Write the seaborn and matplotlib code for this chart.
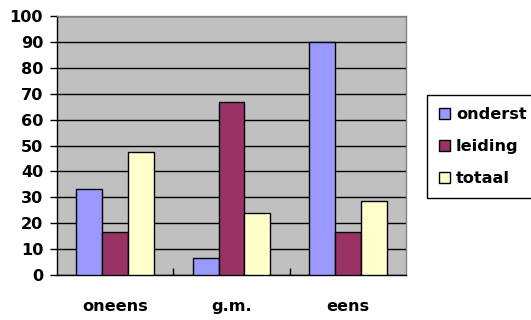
import pandas as pd
import numpy as np
import matplotlib
matplotlib.use('Agg')
import matplotlib.pyplot as plt
import seaborn as sns

# data
categories = ['oneens', 'g.m.', 'eens']
series = ['onderst', 'leiding', 'totaal']
onderst = [33.3, 6.7, 90.0]
leiding = [16.7, 66.7, 16.7]
totaal = [47.4, 23.8, 28.4]
colors = ['#9999FF', '#993366', '#FFFFCC']

df = pd.DataFrame({
    'cat': categories * 3,
    'serie': [s for s in series for _ in categories],
    'value': onderst + leiding + totaal,
})

sns.set_style('white')
plt.rcParams['font.family'] = ['DejaVu Sans']
plt.rcParams['font.weight'] = 'bold'
plt.rcParams['text.color'] = 'black'
plt.rcParams['xtick.color'] = 'black'
plt.rcParams['ytick.color'] = 'black'

fig = plt.figure(figsize=(5.31, 3.20), dpi=100)
ax = fig.add_axes([57/531, 45/320, 349/531, 259/320])
ax.set_facecolor('#C0C0C0')

sns.barplot(data=df, x='cat', y='value', hue='serie', order=categories,
            hue_order=series, palette=colors, width=0.67, gap=0,
            edgecolor='black', linewidth=1, saturation=1, ax=ax, zorder=3)

ax.set_ylim(0, 100)
ax.set_xlim(-0.5, 2.5)
ax.set_yticks(np.arange(0, 101, 10))
ax.yaxis.grid(True, color='black', linewidth=1, zorder=1)
ax.set_axisbelow(True)
ax.set_xlabel('')
ax.set_ylabel('')

ax.tick_params(axis='y', direction='out', length=5, width=1, color='black',
               pad=5, labelsize=11.6, labelcolor='black', left=True)
ax.tick_params(axis='x', length=0, pad=17, labelsize=11.6, labelcolor='black')
ax.set_xticks([0.5, 1.5], minor=True)
ax.tick_params(axis='x', which='minor', direction='in', length=5, width=1,
               color='black', bottom=True)
for lab in ax.get_xticklabels() + ax.get_yticklabels():
    lab.set_fontweight('bold')

ax.spines['left'].set_color('black')
ax.spines['bottom'].set_color('black')
ax.spines['top'].set_color('#808080')
ax.spines['right'].set_color('#808080')
for s in ax.spines.values():
    s.set_linewidth(1)
    s.set_visible(True)

ax.get_legend().remove()
handles = [plt.Rectangle((0, 0), 1, 1, facecolor=c, edgecolor='black', linewidth=1)
           for c in colors]
leg = fig.legend(handles, series, loc='upper left',
                 bbox_to_anchor=(427/531, 1 - 95/320),
                 fancybox=False, edgecolor='black', framealpha=1,
                 handlelength=0.7, handleheight=0.7, handletextpad=0.35,
                 labelspacing=1.05, borderpad=0.75, borderaxespad=0,
                 prop={'size': 11.6, 'weight': 'bold'})
leg.get_frame().set_linewidth(1)
for t in leg.get_texts():
    t.set_color('black')

fig.savefig('out.png', dpi=100)
